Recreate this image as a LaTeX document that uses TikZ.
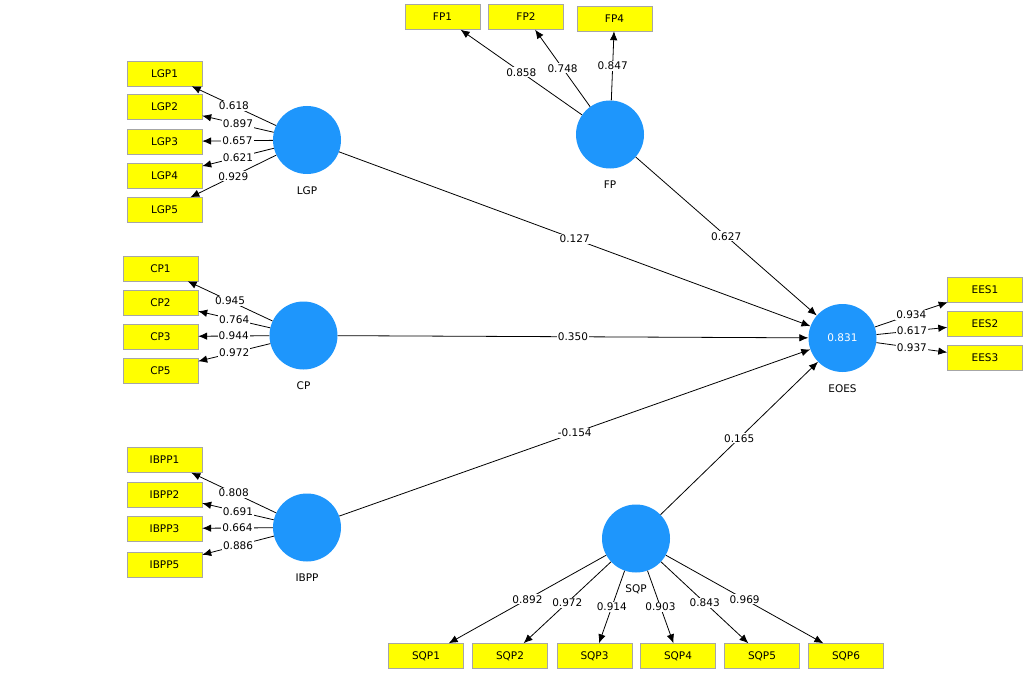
\documentclass[tikz,border=0pt]{standalone}
\usepackage{fontspec}
\setmainfont{DejaVu Sans}
\usetikzlibrary{arrows.meta,positioning}
\definecolor{latblue}{RGB}{30,150,252}
\definecolor{indyellow}{RGB}{255,255,0}
\tikzset{
    lat/.style={circle,fill=latblue,minimum size=68pt,inner sep=0pt,text=white,font=\fontsize{10.5}{12}\selectfont},
    latname/.style={inner sep=0pt,font=\fontsize{10.5}{12}\selectfont},
    ind/.style={draw=gray!70,fill=indyellow,minimum width=75pt,minimum height=25pt,inner sep=0pt,font=\fontsize{10.5}{12}\selectfont},
    load/.style={-{Latex[length=9pt,width=7.5pt]},line width=0.8pt},
    val/.style={fill=white,inner sep=1pt,font=\fontsize{10.5}{12}\selectfont}
}
\begin{document}
\begin{tikzpicture}[x=1pt,y=-1pt]
    \useasboundingbox[fill=white] (0,0) rectangle (1028,674);
    %latent variables
    \node[lat] (lgp) at (307,140) {};
    \node[lat] (cp) at (303.5,335.5) {};
    \node[lat] (ibpp) at (307,527.5) {};
    \node[lat] (fp) at (610,134.5) {};
    \node[lat] (eoes) at (842.5,338) {0.831};
    \node[lat] (sqp) at (636,538.5) {};
    \node[latname,below=12pt of lgp] (lgpname) {LGP};
    \node[latname,below=12pt of cp] (cpname) {CP};
    \node[latname,below=12pt of ibpp] (ibppname) {IBPP};
    \node[latname,below=12pt of fp] (fpname) {FP};
    \node[latname,below=12pt of eoes] (eoesname) {EOES};
    \node[latname,below=12pt of sqp] (sqpname) {SQP};
    %draw indicators
    \foreach \n/\y/\v in {1/73.5/0.618,2/107/0.897,3/141.5/0.657,4/175.5/0.621,5/210/0.929}
        {%
            \node[ind] (lgp\n) at (164.5,\y) {LGP\n};
            \draw[load] (lgp) -- node[val]{\v} (lgp\n);
        }
    \foreach \n/\y/\v in {1/268.5/0.945,2/302.5/0.764,3/336.5/0.944,5/370.5/0.972}
        {%
            \node[ind] (cp\n) at (160.5,\y) {CP\n};
            \draw[load] (cp) -- node[val]{\v} (cp\n);
        }
    \foreach \n/\y/\v in {1/460/0.808,2/494.5/0.691,3/528.5/0.664,5/564.5/0.886}
        {%
            \node[ind] (ibpp\n) at (164.5,\y) {IBPP\n};
            \draw[load] (ibpp) -- node[val]{\v} (ibpp\n);
        }
    \foreach \n/\x/\y/\v in {1/442.5/17/0.858,2/526/17/0.748,4/614.5/18.5/0.847}
        {%
            \node[ind] (fp\n) at (\x,\y) {FP\n};
            \draw[load] (fp) -- node[val]{\v} (fp\n);
        }
    \foreach \n/\y/\v in {1/289.5/0.934,2/323.5/0.617,3/357.5/0.937}
        {%
            \node[ind] (ees\n) at (985,\y) {EES\n};
            \draw[load] (eoes) -- node[val]{\v} (ees\n);
        }
    \foreach \n/\x/\v in {1/426/0.892,2/510/0.972,3/594.5/0.914,4/678/0.903,5/762/0.843,6/846/0.969}
        {%
            \node[ind] (sqp\n) at (\x,656) {SQP\n};
            \draw[load] (sqp) -- node[val]{\v} (sqp\n);
        }
    %draw paths
    \draw[load] (lgp) -- node[val]{0.127} (eoes);
    \draw[load] (cp) -- node[val]{0.350} (eoes);
    \draw[load] (ibpp) -- node[val]{-0.154} (eoes);
    \draw[load] (fp) -- node[val]{0.627} (eoes);
    \draw[load] (sqp) -- node[val]{0.165} (eoes);
\end{tikzpicture}
\end{document}
